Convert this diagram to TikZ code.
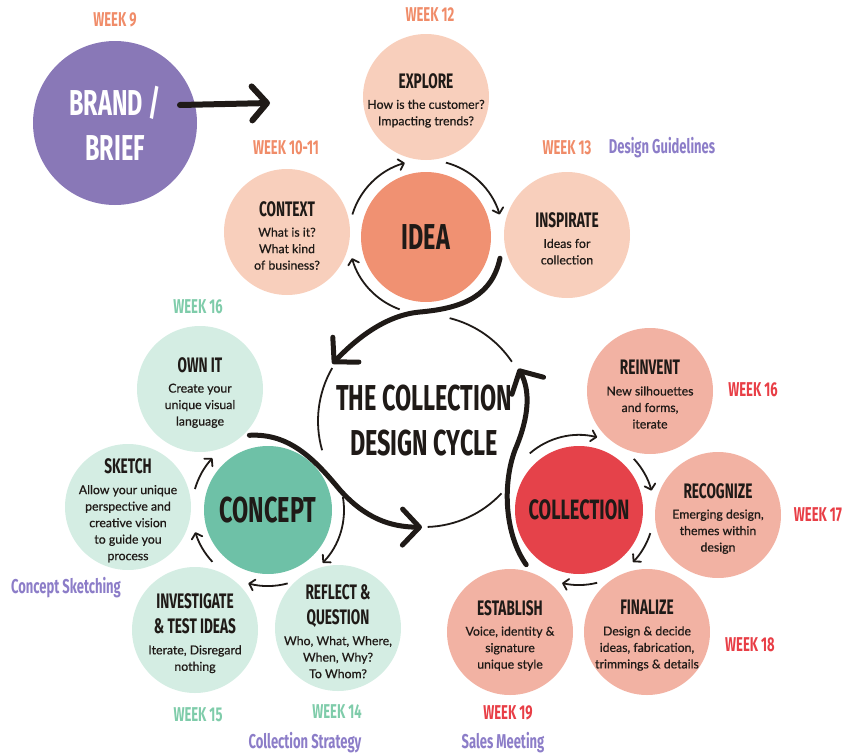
\documentclass[tikz,border=0pt]{standalone}
\usepackage{fontspec}
\setmainfont{Lato}
\newfontfamily\bodyfont[FakeBold=0.6]{Lato}
\newfontfamily\headfont[FakeStretch=0.65]{Fira Sans}
\usetikzlibrary{arrows.meta}
\usetikzlibrary{calc}

\definecolor{brandpurple}{RGB}{137,120,183}
\definecolor{peach}{RGB}{248,207,188}
\definecolor{ideaorange}{RGB}{240,145,114}
\definecolor{mint}{RGB}{212,237,227}
\definecolor{conceptgreen}{RGB}{110,193,167}
\definecolor{salmon}{RGB}{242,178,163}
\definecolor{collred}{RGB}{229,66,74}
\definecolor{weekorange}{RGB}{240,140,105}
\definecolor{weekteal}{RGB}{127,204,170}
\definecolor{weekred}{RGB}{232,62,70}
\definecolor{labpurple}{RGB}{140,125,200}
\definecolor{inkblack}{RGB}{31,26,23}

\tikzset{
	stage/.style={
		circle, minimum size=126pt, inner sep=0pt, text=inkblack
	},
	hub/.style={
		circle, minimum size=130pt, inner sep=0pt, align=center, text=inkblack,
		font=\headfont\bfseries\fontsize{36}{45}\selectfont
	},
	week/.style={
		font=\headfont\bfseries\fontsize{20}{20}\selectfont
	},
	meeting/.style={
		font=\headfont\bfseries\fontsize{20}{20}\selectfont, text=labpurple
	},
	ring/.style={
		line width=1.8pt, draw=inkblack, -{Straight Barb[length=5pt,width=11pt,round]}
	},
	bigarrow/.style={
		line width=5pt, draw=inkblack, line cap=round, -{Straight Barb[length=17pt,width=36pt,round]}
	},
	cycleline/.style={
		line width=1.8pt, draw=inkblack
	}
}
\newsavebox\stagebox
\newcommand\stagetext[2]{\sbox\stagebox{\parbox[c]{124pt}{\centering
	{\headfont\bfseries\fontsize{21}{25}\selectfont #1\par}\vspace{4pt}
	{\bodyfont\fontsize{12.3}{16.5}\selectfont #2\par}}}%
	\raisebox{-6pt}[0pt][0pt]{\usebox\stagebox}}

\begin{document}
\begin{tikzpicture}[x=1pt, y=1pt]
    \useasboundingbox (0,0) rectangle (855,-755);

    % brief
    \node[circle, minimum size=164pt, inner sep=0pt, fill=brandpurple, text=white, align=center,
        font=\headfont\bfseries\fontsize{36}{45}\selectfont] (brand) at (115,-123) {BRAND /\\BRIEF};
    \coordinate (briefend) at (270,-103);
    \draw[line width=6pt, draw=inkblack, line cap=round, -{Straight Barb[length=15pt,width=34pt,round]}]
        ([shift={(65pt,18pt)}]brand.center) -- (briefend);

    % idea
    \node[hub, fill=ideaorange] (idea) at (426,-237) {IDEA};
    \node[stage, fill=peach] (explore) at (426,-97) {\stagetext{EXPLORE}{How is the customer?\\Impacting trends?}};
    \node[stage, fill=peach] (context) at (287,-232) {\stagetext{CONTEXT}{What is it?\\What kind\\of business?}};
    \node[stage, fill=peach] (inspirate) at (567,-235) {\stagetext{INSPIRATE}{Ideas for\\collection}};

    % concept
    \node[hub, fill=conceptgreen, minimum size=128pt] (concept) at (268,-510) {CONCEPT};
    \node[stage, fill=mint] (ownit) at (200,-389) {\stagetext{OWN IT}{Create your\\unique visual\\language}};
    \node[stage, fill=mint] (sketch) at (128,-507) {\stagetext{SKETCH}{Allow your unique\\perspective and\\creative vision\\to guide you\\process}};
    \node[stage, fill=mint] (investigate) at (195,-630) {\stagetext{INVESTIGATE\\\& TEST IDEAS}{Iterate, Disregard\\nothing}};
    \node[stage, fill=mint] (reflect) at (338,-628) {\stagetext{REFLECT \&\\QUESTION}{Who, What, Where,\\When, Why?\\To Whom?}};

    % collection
    \node[hub, fill=collred, minimum size=128pt, font=\headfont\bfseries\fontsize{28}{34}\selectfont] (collection) at (579,-510) {COLLECTION};
    \node[stage, fill=salmon] (reinvent) at (650,-391) {\stagetext{REINVENT}{New silhouettes\\and forms,\\iterate}};
    \node[stage, fill=salmon] (recognize) at (718,-515) {\stagetext{RECOGNIZE}{Emerging design,\\themes within\\design}};
    \node[stage, fill=salmon] (finalize) at (647,-632) {\stagetext{FINALIZE}{Design \& decide\\ideas, fabrication,\\trimmings \& details}};
    \node[stage, fill=salmon] (establish) at (510,-632) {\stagetext{ESTABLISH}{Voice, identity \&\\signature\\unique style}};

    % the cycle
    \node[hub, minimum size=212pt] (cycle) at (424,-421) {THE COLLECTION\\DESIGN CYCLE};
    \foreach \s/\e in {76/34, 150/196, -88/-43}
        \draw[cycleline] ([shift={(\s:106pt)}]cycle.center) arc[start angle=\s, end angle=\e, radius=106pt];

    % small rings
    \foreach \s/\e in {163/106, 75/17, -110/-164}
        \draw[ring] ([shift={(\s:77pt)}]idea.center) arc[start angle=\s, end angle=\e, radius=77pt];
    \foreach \s/\e in {164/137, 223/197, -75/-105, 10/-44}
        \draw[ring] ([shift={(\s:76pt)}]concept.center) arc[start angle=\s, end angle=\e, radius=76pt];
    \foreach \s/\e in {131/76, 43/15, -18/-44, -76/-103}
        \draw[ring] ([shift={(\s:75pt)}]collection.center) arc[start angle=\s, end angle=\e, radius=75pt];

    % big arrows
    \draw[bigarrow] ([shift={(-16:77pt)}]idea.center) .. controls (492,-295) and (465,-308) .. (420,-312)
        .. controls (385,-315) and (355,-340) .. ([shift={(148:108pt)}]cycle.center);
    \draw[bigarrow] ([shift={(104:77pt)}]concept.center) .. controls (290,-433) and (315,-460) .. (340,-490)
        .. controls (365,-518) and (390,-527) .. ([xshift=-2pt]cycle.south);
    \draw[bigarrow] ([shift={(226:76pt)}]collection.center) .. controls (505,-535) and (502,-485) .. (515,-450)
        .. controls (530,-415) and (530,-390) .. ([shift={(29:108pt)}]cycle.center);

    % weeks
    \node[week, text=weekorange] (w9) at (115,-20) {WEEK 9};
    \node[week, text=weekorange] (w12) at (430,-15) {WEEK 12};
    \node[week, text=weekorange] (w10) at (286,-148) {WEEK 10-11};
    \node[week, text=weekorange] (w13) at (567,-148) {WEEK 13};
    \node[meeting] (guidelines) at (662,-148) {Design Guidelines};
    \node[week, text=weekteal] (w16a) at (198,-307) {WEEK 16};
    \node[meeting] (sketching) at (66,-588) {Concept Sketching};
    \node[week, text=weekteal] (w15) at (198,-715) {WEEK 15};
    \node[week, text=weekteal] (w14) at (337,-712) {WEEK 14};
    \node[meeting] (strategy) at (305,-743) {Collection Strategy};
    \node[week, text=weekred] (w16b) at (753,-390) {WEEK 16};
    \node[week, text=weekred] (w17) at (818,-515) {WEEK 17};
    \node[week, text=weekred] (w18) at (750,-645) {WEEK 18};
    \node[week, text=weekred] (w19) at (508,-713) {WEEK 19};
    \node[meeting] (sales) at (503,-743) {Sales Meeting};
\end{tikzpicture}
\end{document}
